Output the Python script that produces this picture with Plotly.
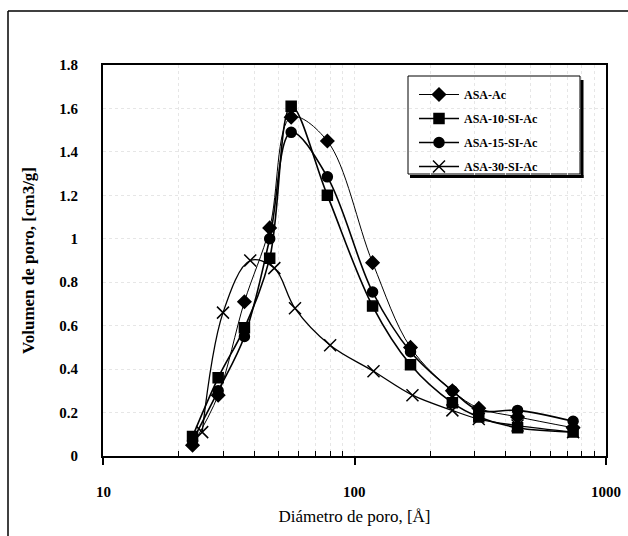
import math
import plotly.graph_objects as go

# Pore diameter (Å) and pore volume (cm3/g) for each sample
diam = [22.7, 28.7, 36.5, 46, 56, 78, 118, 167, 245, 312, 445, 740]
asa_ac = [0.05, 0.28, 0.71, 1.05, 1.56, 1.45, 0.89, 0.50, 0.30, 0.22, 0.18, 0.13]
asa_10 = [0.09, 0.36, 0.59, 0.91, 1.61, 1.20, 0.69, 0.42, 0.245, 0.18, 0.13, 0.11]
asa_15 = [0.07, 0.30, 0.55, 1.00, 1.49, 1.285, 0.755, 0.48, 0.30, 0.21, 0.21, 0.16]

diam_30 = [24.8, 30, 38.5, 48, 58, 80, 119, 170, 245, 312, 445, 740]
asa_30 = [0.11, 0.66, 0.90, 0.865, 0.68, 0.51, 0.39, 0.28, 0.21, 0.17, 0.14, 0.11]

# Axis ticks
major_ticks = [10, 100, 1000]
minor_ticks = [20, 30, 40, 50, 60, 70, 80, 90,
               200, 300, 400, 500, 600, 700, 800, 900]

series = [
    ("ASA-Ac", diam, asa_ac, "diamond", 10, 1.0),
    ("ASA-10-SI-Ac", diam, asa_10, "square", 10, 1.6),
    ("ASA-15-SI-Ac", diam, asa_15, "circle", 10, 1.6),
    ("ASA-30-SI-Ac", diam_30, asa_30, "x-thin-open", 12, 1.3),
]

W, H = 628, 536
L, R, T, B = 103, 606, 65, 456  # plot area in pixels


def px(x):
    return (x - L) / (R - L)


def py(y):
    return (B - y) / (B - T)


fig = go.Figure()
for i, (name, xs, ys, sym, size, lw) in enumerate(series):
    fig.add_trace(go.Scatter(
        x=xs, y=ys, name=name, mode="lines+markers",
        legendgroup=str(i),
        line=dict(color="black", width=lw, shape="spline", smoothing=1.0),
        marker=dict(symbol=sym, size=size, color="black",
                    line=dict(color="black", width=1.5)),
    ))

font_family = "Liberation Serif"
tick_font = dict(family=font_family, size=15, color="black", weight="bold")
grid = dict(showgrid=True, gridcolor="#e6e6e6", griddash="dot")

fig.update_layout(
    width=W, height=H,
    margin=dict(l=L, r=W - R, t=T, b=H - B),
    paper_bgcolor="white", plot_bgcolor="white",
    font=dict(family=font_family, color="black"),
    showlegend=True,
    legend=dict(
        x=px(414), y=py(80), xanchor="left", yanchor="top",
        bgcolor="rgba(0,0,0,0)", borderwidth=0,
        font=dict(family=font_family, size=12, color="black", weight="bold"),
        tracegroupgap=5, itemwidth=40,
    ),
    xaxis=dict(
        type="log", range=[1, 3],
        tickmode="array", tickvals=major_ticks, showticklabels=False,
        ticks="outside", ticklen=7, tickwidth=1.5, tickcolor="black",
        showline=True, linecolor="black", linewidth=2, mirror=True,
        title=dict(text="Diámetro de poro, [Å]", standoff=46,
                   font=dict(family=font_family, size=17)),
        **grid,
    ),
    # second x axis carries the inward minor ticks between decades
    xaxis2=dict(
        type="log", range=[1, 3], overlaying="x", side="bottom",
        tickmode="array", tickvals=minor_ticks, showticklabels=False,
        ticks="inside", ticklen=5, tickwidth=1.2, tickcolor="black",
        showline=False, **grid,
    ),
    yaxis=dict(
        range=[0, 1.8], dtick=0.2, tick0=0,
        ticks="", showline=True, linecolor="black", linewidth=2, mirror=True,
        zeroline=False,
        tickfont=tick_font, ticklabelstandoff=20,
        title=dict(text="Volumen de poro, [cm3/g]", standoff=20,
                   font=dict(family=font_family, size=17, weight="bold")),
        **grid,
    ),
)

# invisible trace that anchors the minor-tick axis
fig.add_trace(go.Scatter(x=[major_ticks[0]], y=[0], xaxis="x2", mode="markers",
                         marker=dict(opacity=0), showlegend=False,
                         hoverinfo="skip"))

# bold decade labels under the x axis
for v in major_ticks:
    fig.add_annotation(x=math.log10(v), xref="x", y=0, yref="paper",
                       yanchor="top", yshift=-26, showarrow=False,
                       text=str(v), font=tick_font)

# Legend frame with drop shadow, plus the outer frame of the figure
shapes = [
    dict(type="rect", xref="paper", yref="paper",
         x0=px(408), x1=px(580), y0=py(174), y1=py(76),
         line=dict(color="black", width=1), fillcolor="white", layer="below"),
    dict(type="line", xref="paper", yref="paper",
         x0=px(582), x1=px(582), y0=py(80), y1=py(178),
         line=dict(color="black", width=3)),
    dict(type="line", xref="paper", yref="paper",
         x0=px(410), x1=px(583.5), y0=py(176.5), y1=py(176.5),
         line=dict(color="black", width=3)),
    dict(type="line", xref="paper", yref="paper",
         x0=px(8), x1=px(640), y0=py(11), y1=py(11),
         line=dict(color="black", width=1.5)),
    dict(type="line", xref="paper", yref="paper",
         x0=px(8), x1=px(8), y0=py(11), y1=py(560),
         line=dict(color="black", width=1.5)),
]
fig.update_layout(shapes=shapes)

fig.write_html("out.html")
